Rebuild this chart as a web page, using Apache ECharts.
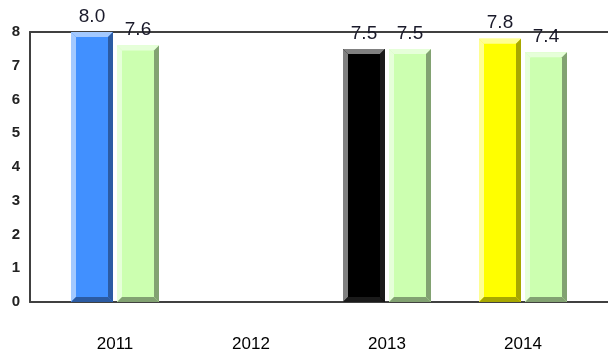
<!DOCTYPE html>
<html>
<head>
<meta charset="utf-8">
<script src="https://cdn.jsdelivr.net/npm/echarts@6/dist/echarts.min.js"></script>
<style>
  html, body { margin: 0; padding: 0; background: #fff; }
  #main { width: 608px; height: 360px; }
</style>
</head>
<body>
<div id="main"></div>
<script>
var years = ['2011', '2012', '2013', '2014'];
var firstValues = [8.0, null, 7.5, 7.8];
var secondValues = [7.6, null, 7.5, 7.4];
// per-year colours of the first bar: [face, light edge, dark edge]
var firstColors = [
    ['#4190ff', '#a3c9ff', '#2b5ba3'],
    ['#4190ff', '#a3c9ff', '#2b5ba3'],
    ['#000000', '#808080', '#1a1a1a'],
    ['#ffff00', '#ffff92', '#a8a800']
];
var secondColors = ['#ccffb0', '#e6ffd9', '#82a272'];

var BAR_W = 42, BEVEL = 5;

function toData(values) {
    var out = [];
    for (var i = 0; i < values.length; i++) {
        if (values[i] != null) out.push([i, values[i]]);
    }
    return out;
}

function bevelBar(getColors, offset) {
    return function (params, api) {
        var idx = api.value(0), v = api.value(1);
        var c = getColors(idx);
        var top = api.coord([idx, v]), base = api.coord([idx, 0]);
        var x0 = top[0] + offset - BAR_W / 2, x1 = x0 + BAR_W;
        var y0 = top[1], y1 = base[1], b = BEVEL;
        function poly(pts, fill) {
            return { type: 'polygon', shape: { points: pts }, style: { fill: fill } };
        }
        return {
            type: 'group',
            children: [
                { type: 'rect', shape: { x: x0, y: y0, width: BAR_W, height: y1 - y0 }, style: { fill: c[0] } },
                poly([[x0, y0], [x1, y0], [x1 - b, y0 + b], [x0 + b, y0 + b]], c[1]),
                poly([[x0, y0], [x0 + b, y0 + b], [x0 + b, y1 - b], [x0, y1]], c[1]),
                poly([[x1, y0], [x1, y1], [x1 - b, y1 - b], [x1 - b, y0 + b]], c[2]),
                poly([[x0, y1], [x1, y1], [x1 - b, y1 - b], [x0 + b, y1 - b]], c[2]),
                {
                    type: 'text',
                    z2: 10,
                    style: {
                        text: v.toFixed(1),
                        x: (x0 + x1) / 2,
                        y: y0 - 6,
                        align: 'center',
                        verticalAlign: 'bottom',
                        fill: '#1a1a2a',
                        font: '19px "Liberation Sans", Arial, sans-serif'
                    }
                }
            ]
        };
    };
}

var chart = echarts.init(document.getElementById('main'));
var frameLine = { show: true, lineStyle: { color: '#404040', width: 2 } };
chart.setOption({
    animation: false,
    grid: [
        { left: 30, right: 0, top: 32, bottom: 58 },
        { left: 47, right: 17, top: 32, bottom: 58 }
    ],
    xAxis: [
        { gridIndex: 0, type: 'value', min: 0, max: 1, position: 'bottom',
          axisLine: frameLine, axisTick: { show: false }, axisLabel: { show: false }, splitLine: { show: false } },
        { gridIndex: 0, type: 'value', min: 0, max: 1, position: 'top',
          axisLine: frameLine, axisTick: { show: false }, axisLabel: { show: false }, splitLine: { show: false } },
        { gridIndex: 1, type: 'category', data: years,
          axisLine: { show: false }, axisTick: { show: false }, splitLine: { show: false },
          axisLabel: { margin: 34, color: '#000', fontSize: 17, fontFamily: '"Liberation Sans", Arial, sans-serif' } }
    ],
    yAxis: [
        { gridIndex: 0, type: 'value', min: 0, max: 8, interval: 1,
          axisLine: frameLine, axisTick: { show: false }, splitLine: { show: false },
          axisLabel: { margin: 10, color: '#222', fontSize: 15, fontWeight: 'bold',
                       fontFamily: '"Liberation Sans", Arial, sans-serif' } },
        { gridIndex: 1, type: 'value', min: 0, max: 8, show: false }
    ],
    series: [
        {
            type: 'custom', xAxisIndex: 2, yAxisIndex: 1,
            encode: { x: 0, y: 1 },
            renderItem: bevelBar(function (i) { return firstColors[i]; }, -23),
            data: toData(firstValues)
        },
        {
            type: 'custom', xAxisIndex: 2, yAxisIndex: 1,
            encode: { x: 0, y: 1 },
            renderItem: bevelBar(function () { return secondColors; }, 23),
            data: toData(secondValues)
        }
    ]
});
</script>
</body>
</html>
